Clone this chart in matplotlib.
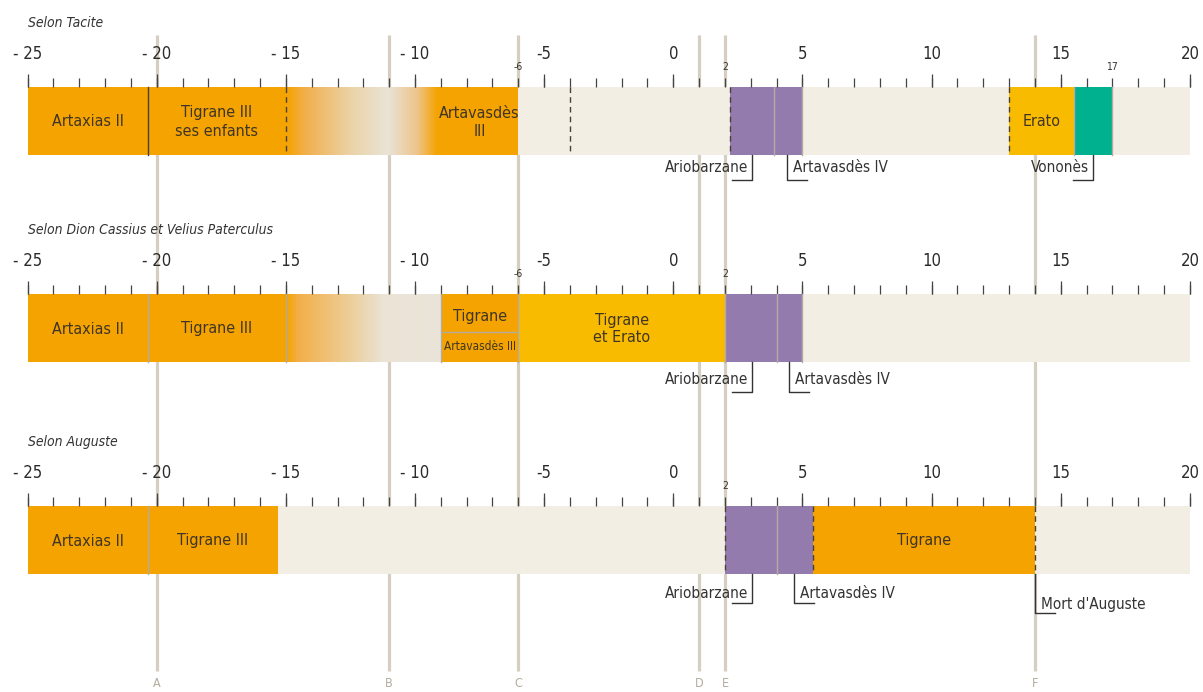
import matplotlib.pyplot as plt
import numpy as np
from matplotlib.colors import LinearSegmentedColormap

plt.rcParams['font.family'] = ['DejaVu Sans']
plt.rcParams['font.stretch'] = 'condensed'

# axis of years
major_years = [-25, -20, -15, -10, -5, 0, 5, 10, 15, 20]
major_labels = ['- 25', '- 20', '- 15', '- 10', '-5', '0', '5', '10', '15', '20']

guide_years = [-20, -11, -6, 1, 2, 14]
guide_letters = ['A', 'B', 'C', 'D', 'E', 'F']

titles = ['Selon Tacite', 'Selon Dion Cassius et Velius Paterculus', 'Selon Auguste']

# (start, end, kind, label)
tacite = [(-25, -20.35, 'orange', 'Artaxias II'),
          (-20.35, -15, 'orange', 'Tigrane III\nses enfants'),
          (-15, -9, 'fade_tacite', ''),
          (-9, -6, 'orange', 'Artavasdès\nIII'),
          (-6, 2.2, 'beige', ''),
          (2.2, 3.9, 'purple', ''),
          (3.9, 5, 'purple', ''),
          (5, 13, 'beige', ''),
          (13, 15.5, 'yellow', 'Erato'),
          (15.5, 17, 'green', ''),
          (17, 20, 'beige', '')]
dion = [(-25, -20.35, 'orange', 'Artaxias II'),
        (-20.35, -15, 'orange', 'Tigrane III'),
        (-15, -9, 'fade_dion', ''),
        (-9, -6, 'orange', ''),
        (-6, 2, 'yellow', 'Tigrane\net Erato'),
        (2, 4, 'purple', ''),
        (4, 5, 'purple', ''),
        (5, 20, 'beige', '')]
auguste = [(-25, -20.35, 'orange', 'Artaxias II'),
           (-20.35, -15.3, 'orange', 'Tigrane III'),
           (-15.3, 2, 'beige', ''),
           (2, 4, 'purple', ''),
           (4, 5.4, 'purple', ''),
           (5.4, 14, 'orange', 'Tigrane'),
           (14, 20, 'beige', '')]

# boundary lines (year, kind)
tacite_lines = [(-20.35, 'solid'), (-15, 'dash'), (-4, 'dash'), (2.2, 'dash'),
                (3.9, 'light'), (5, 'light'), (13, 'dash'), (15.5, 'light'), (17, 'light')]
dion_lines = [(-20.35, 'light'), (-15, 'light'), (-9, 'light'), (-6, 'light'),
              (2, 'light'), (4, 'light'), (5, 'light')]
auguste_lines = [(-20.35, 'light'), (2, 'dash'), (4, 'light'), (5.4, 'dash'), (14, 'dash')]

# small year marks above the bars
tacite_marks = [-6, 2, 17]
dion_marks = [-6, 2]
auguste_marks = [2]

# callouts (year, label, side)
tacite_notes = [(3.04, 'Ariobarzane', -1), (4.41, 'Artavasdès IV', 1), (16.23, 'Vononès', -1)]
dion_notes = [(3.04, 'Ariobarzane', -1), (4.48, 'Artavasdès IV', 1)]
auguste_notes = [(3.03, 'Ariobarzane', -1), (4.67, 'Artavasdès IV', 1), (14.0, "Mort d'Auguste", 1)]

colors = {'orange': '#f5a300', 'yellow': '#f9bb00', 'purple': '#937bad',
          'green': '#00b18f', 'beige': '#f2eee4'}
fades = {
    'fade_tacite': LinearSegmentedColormap.from_list('ft', [
        (0.0, '#f5a300'), (0.13, '#f1b050'), (0.43, '#ebd4aa'), (0.66, '#e9e3d7'),
        (0.85, '#eec48a'), (0.98, '#f5a300'), (1.0, '#f5a300')]),
    'fade_dion': LinearSegmentedColormap.from_list('fd', [
        (0.0, '#f5a300'), (0.08, '#f2b04a'), (0.38, '#edcb90'), (0.63, '#eae3d6'),
        (1.0, '#ebe5d9')]),
}
line_styles = {'solid': dict(color='#4a4033', ls='-', lw=1.0),
               'dash': dict(color='#4a4033', ls=(0, (4, 3)), lw=1.0),
               'light': dict(color='#b4aca0', ls='-', lw=1.0)}

panels = [
    dict(segs=tacite, lines=tacite_lines, marks=tacite_marks, notes=tacite_notes,
         top=87, drop=25, text_dy=13),
    dict(segs=dion, lines=dion_lines, marks=dion_marks, notes=dion_notes,
         top=294, drop=30, text_dy=18),
    dict(segs=auguste, lines=auguste_lines, marks=auguste_marks, notes=auguste_notes,
         top=506, drop=29, text_dy=19),
]
bar_h = 68

# pixel layout: year 0 at 673.3 px, 25.83 px per year
x0, ppy = 673.3, 25.83
W, H = 1203, 692

fig = plt.figure(figsize=(W / 100, H / 100), dpi=100)
ax = fig.add_axes([0, 0, 1, 1])
xlim = (-x0 / ppy, (W - x0) / ppy)

ax.vlines(guide_years, 35, 671, color='#d6cfc1', lw=2.3, zorder=0)
for yr, let in zip(guide_years, guide_letters):
    ax.text(yr, 690, let, ha='center', va='bottom', fontsize=9, color='#b3ab9d')

text_col = '#3f3526'
for title, p in zip(titles, panels):
    top = p['top']
    bot = top + bar_h
    ax.text(-25, top - 64, title, ha='left', va='center', fontsize=10,
            style='italic', color='#333333')

    # ticks
    ax.vlines(range(-25, 21), top - 9, top, color='#444444', lw=0.9, zorder=3)
    ax.vlines(major_years, top - 13, top, color='#444444', lw=0.9, zorder=3)
    for yr, lab in zip(major_years, major_labels):
        ax.text(yr, top - 33, lab, ha='center', va='center', fontsize=12, color='#2b2b2b')
    for yr in p['marks']:
        ax.text(yr, top - 20, str(yr), ha='center', va='center', fontsize=7.5, color='#333333')

    # bar segments
    for s, e, kind, lab in p['segs']:
        if kind in fades:
            ax.imshow(np.linspace(0, 1, 300)[None, :], cmap=fades[kind], aspect='auto',
                      extent=(s, e, bot, top), zorder=2, interpolation='bilinear')
        else:
            ax.barh(top + bar_h / 2, e - s, left=s, height=bar_h, color=colors[kind],
                    linewidth=0, zorder=2)
        if lab:
            ax.text((s + e) / 2, top + 35, lab, ha='center', va='center', fontsize=11.5,
                    color=text_col, linespacing=1.25, zorder=4)

    for yr, kind in p['lines']:
        ax.plot([yr, yr], [top, bot], zorder=3, **line_styles[kind])

    # callouts
    for yr, lab, side in p['notes']:
        drop, tdy = p['drop'], p['text_dy']
        if lab.startswith('Mort'):
            drop, tdy = drop + 10, tdy + 11
        ax.plot([yr, yr, yr + side * 0.76], [bot, bot + drop, bot + drop],
                color='#333333', lw=1.0, zorder=4)
        if side < 0:
            ax.text(yr - 0.12, bot + tdy, lab, ha='right', va='center', fontsize=11,
                    color='#333333', zorder=4)
        else:
            ax.text(yr + 0.22, bot + tdy, lab, ha='left', va='center', fontsize=11,
                    color='#333333', zorder=4)

# split block Tigrane / Artavasdès III in the second panel
top2 = panels[1]['top']
ax.plot([-9, -6], [top2 + 38, top2 + 38], color='#b4aca0', lw=1.0, zorder=3)
ax.text(-7.5, top2 + 23, 'Tigrane', ha='center', va='center', fontsize=11.5, color=text_col, zorder=4)
ax.text(-7.5, top2 + 53, 'Artavasdès III', ha='center', va='center', fontsize=8.5, color=text_col, zorder=4)

ax.set_xlim(xlim)
ax.set_ylim(H, 0)
ax.axis('off')
fig.savefig('out.png', dpi=100)
